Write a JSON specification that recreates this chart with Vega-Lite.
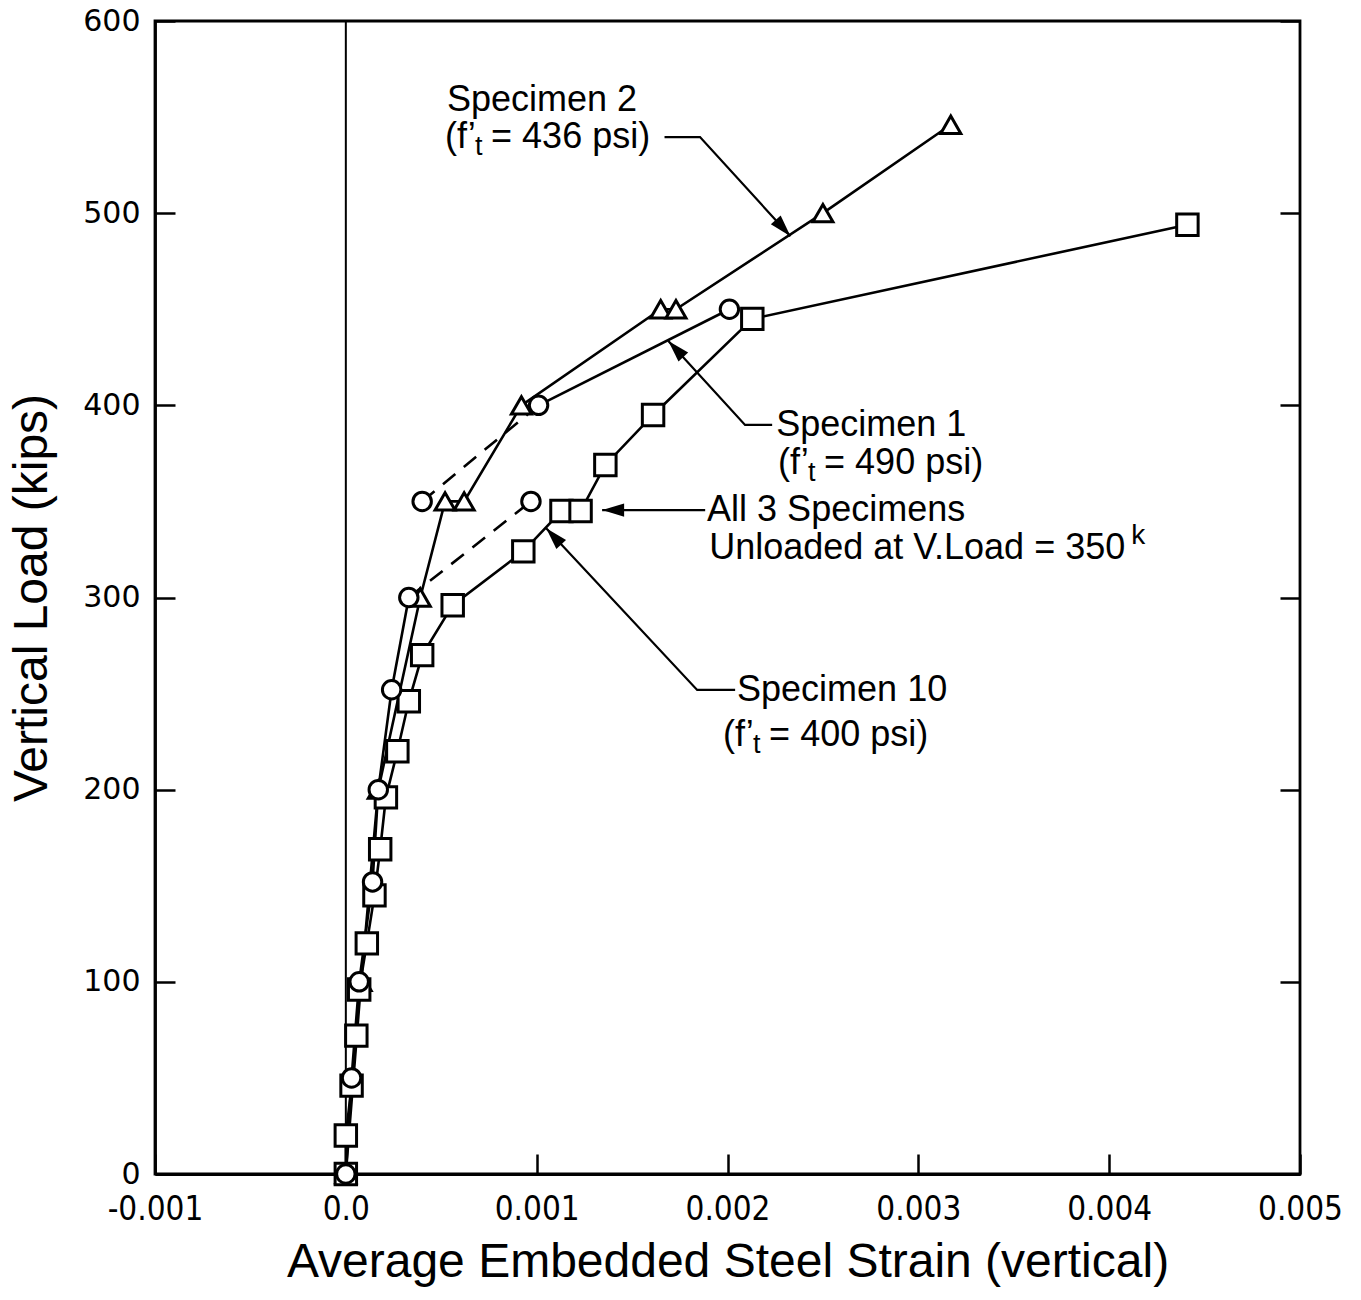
{
  "$schema": "https://vega.github.io/schema/vega-lite/v6.json",
  "width": 1145,
  "height": 1153,
  "autosize": {"type": "none"},
  "padding": {"left": 155, "top": 21, "right": 61, "bottom": 126},
  "background": "white",
  "config": {
    "view": {"stroke": "black", "strokeWidth": 2.8},
    "axis": {
      "grid": false,
      "domainColor": "black",
      "domainWidth": 2.8,
      "tickColor": "black",
      "tickWidth": 2.5,
      "tickSize": -20,
      "labelColor": "black",
      "titleColor": "black",
      "titleFont": "Liberation Sans",
      "titleFontSize": 48,
      "titleFontWeight": "normal"
    },
    "text": {"font": "Liberation Sans", "fontSize": 36, "color": "black"}
  },
  "datasets": {
    "zero": [{"strain": 0}],
    "tests": [
      {"specimen": "Specimen 2", "seq": 1, "strain": 0, "load": 0, "stage": "loading"},
      {"specimen": "Specimen 2", "seq": 2, "strain": 0.00008, "load": 100, "stage": "loading"},
      {"specimen": "Specimen 2", "seq": 3, "strain": 0.00017, "load": 200, "stage": "loading"},
      {"specimen": "Specimen 2", "seq": 4, "strain": 0.00039, "load": 300, "stage": "loading"},
      {"specimen": "Specimen 2", "seq": 5, "strain": 0.00052, "load": 350, "stage": "loading"},
      {"specimen": "Specimen 2", "seq": 6, "strain": 0.00062, "load": 350, "stage": "loading"},
      {"specimen": "Specimen 2", "seq": 7, "strain": 0.00092, "load": 400, "stage": "loading"},
      {"specimen": "Specimen 2", "seq": 8, "strain": 0.00165, "load": 450, "stage": "loading"},
      {"specimen": "Specimen 2", "seq": 9, "strain": 0.00173, "load": 450, "stage": "loading"},
      {"specimen": "Specimen 2", "seq": 10, "strain": 0.0025, "load": 500, "stage": "loading"},
      {"specimen": "Specimen 2", "seq": 11, "strain": 0.00317, "load": 546, "stage": "loading"},
      {"specimen": "Specimen 10", "seq": 1, "strain": 0, "load": 0, "stage": "loading"},
      {"specimen": "Specimen 10", "seq": 2, "strain": 0, "load": 20, "stage": "loading"},
      {"specimen": "Specimen 10", "seq": 3, "strain": 0.00003, "load": 46, "stage": "loading"},
      {"specimen": "Specimen 10", "seq": 4, "strain": 0.000055, "load": 72, "stage": "loading"},
      {"specimen": "Specimen 10", "seq": 5, "strain": 0.00007, "load": 96, "stage": "loading"},
      {"specimen": "Specimen 10", "seq": 6, "strain": 0.00011, "load": 120, "stage": "loading"},
      {"specimen": "Specimen 10", "seq": 7, "strain": 0.00015, "load": 145, "stage": "loading"},
      {"specimen": "Specimen 10", "seq": 8, "strain": 0.00018, "load": 169, "stage": "loading"},
      {"specimen": "Specimen 10", "seq": 9, "strain": 0.00021, "load": 196, "stage": "loading"},
      {"specimen": "Specimen 10", "seq": 10, "strain": 0.00027, "load": 220, "stage": "loading"},
      {"specimen": "Specimen 10", "seq": 11, "strain": 0.00033, "load": 246, "stage": "loading"},
      {"specimen": "Specimen 10", "seq": 12, "strain": 0.0004, "load": 270, "stage": "loading"},
      {"specimen": "Specimen 10", "seq": 13, "strain": 0.00056, "load": 296, "stage": "loading"},
      {"specimen": "Specimen 10", "seq": 14, "strain": 0.00093, "load": 324, "stage": "loading"},
      {"specimen": "Specimen 10", "seq": 15, "strain": 0.00113, "load": 345, "stage": "loading"},
      {"specimen": "Specimen 10", "seq": 16, "strain": 0.00123, "load": 345, "stage": "loading"},
      {"specimen": "Specimen 10", "seq": 17, "strain": 0.00136, "load": 369, "stage": "loading"},
      {"specimen": "Specimen 10", "seq": 18, "strain": 0.00161, "load": 395, "stage": "loading"},
      {"specimen": "Specimen 10", "seq": 19, "strain": 0.00213, "load": 445, "stage": "loading"},
      {"specimen": "Specimen 10", "seq": 20, "strain": 0.00441, "load": 494, "stage": "loading"},
      {"specimen": "Specimen 1", "seq": 1, "strain": 0, "load": 0, "stage": "loading"},
      {"specimen": "Specimen 1", "seq": 2, "strain": 0.00003, "load": 50, "stage": "loading"},
      {"specimen": "Specimen 1", "seq": 3, "strain": 0.00007, "load": 100, "stage": "loading"},
      {"specimen": "Specimen 1", "seq": 4, "strain": 0.00014, "load": 152, "stage": "loading"},
      {"specimen": "Specimen 1", "seq": 5, "strain": 0.00017, "load": 200, "stage": "loading"},
      {"specimen": "Specimen 1", "seq": 6, "strain": 0.00024, "load": 252, "stage": "loading"},
      {"specimen": "Specimen 1", "seq": 7, "strain": 0.00033, "load": 300, "stage": "loading", "link": "A"},
      {"specimen": "Specimen 1", "seq": 8, "strain": 0.00097, "load": 350, "stage": "unloaded", "link": "A"},
      {"specimen": "Specimen 1", "seq": 9, "strain": 0.0004, "load": 350, "stage": "unloaded", "link": "B"},
      {"specimen": "Specimen 1", "seq": 10, "strain": 0.00101, "load": 400, "stage": "reloading", "link": "B"},
      {"specimen": "Specimen 1", "seq": 11, "strain": 0.00201, "load": 450, "stage": "reloading"}
    ],
    "leaders": [
      {"leader": "Specimen 2", "seq": 1, "strain": 0.00233, "load": 488},
      {"leader": "Specimen 2", "seq": 2, "strain": 0.001856, "load": 539.6},
      {"leader": "Specimen 2", "seq": 3, "strain": 0.00167, "load": 539.6},
      {"leader": "Specimen 1", "seq": 1, "strain": 0.00169, "load": 433.5},
      {"leader": "Specimen 1", "seq": 2, "strain": 0.002092, "load": 389.8},
      {"leader": "Specimen 1", "seq": 3, "strain": 0.002234, "load": 389.8},
      {"leader": "All 3", "seq": 1, "strain": 0.001343, "load": 345.5},
      {"leader": "All 3", "seq": 2, "strain": 0.001883, "load": 345.5},
      {"leader": "Specimen 10", "seq": 1, "strain": 0.00105, "load": 336},
      {"leader": "Specimen 10", "seq": 2, "strain": 0.001841, "load": 251.9},
      {"leader": "Specimen 10", "seq": 3, "strain": 0.00204, "load": 251.9}
    ],
    "labels": [
      {"label": "Specimen 2", "strain": 0.00053, "load": 558.9},
      {"label": "Specimen 1", "strain": 0.002255, "load": 389.8},
      {"label": "All 3 Specimens", "strain": 0.001893, "load": 345.5},
      {"label": "Specimen 10", "strain": 0.00205, "load": 251.9}
    ],
    "formulas": [
      {"pre": "(f’", "sub": "t", "post": "= 436 psi)", "strain": 0.00052, "load": 539.6},
      {"pre": "(f’", "sub": "t", "post": "= 490 psi)", "strain": 0.002265, "load": 370},
      {"pre": "(f’", "sub": "t", "post": "= 400 psi)", "strain": 0.001977, "load": 228.5}
    ],
    "unload": [
      {"main": "Unloaded at V.Load = 350", "sup": "k", "strain": 0.001904, "load": 325.8}
    ]
  },
  "encoding": {
    "x": {
      "field": "strain", "type": "quantitative",
      "scale": {"domain": [-0.001, 0.005], "nice": false, "zero": false},
      "axis": {
        "values": [-0.001, 0, 0.001, 0.002, 0.003, 0.004, 0.005],
        "labelExpr": "datum.value === 0 ? '0.0' : (datum.value < 0 ? '-' : '') + format(abs(datum.value), '.3f')",
        "labelFont": "'Liberation Sans Narrow', 'DejaVu Sans Condensed', 'Liberation Sans', sans-serif",
        "labelFontSize": 33,
        "labelPadding": 39,
        "labelFlush": false,
        "labelOverlap": false,
        "title": "Average Embedded Steel Strain (vertical)",
        "titlePadding": 12
      }
    }
  },
  "resolve": {"axis": {"y": "independent"}},
  "layer": [
    {
      "data": {"name": "zero"},
      "mark": {"type": "rule", "color": "black", "strokeWidth": 2}
    },
    {
      "data": {"name": "tests"},
      "transform": [{"filter": "datum.stage !== 'unloaded'"}],
      "mark": {"type": "line", "color": "black", "strokeWidth": 2.6},
      "encoding": {
        "y": {
          "field": "load", "type": "quantitative",
          "scale": {"domain": [0, 600], "nice": false},
          "axis": {
            "orient": "left",
            "values": [0, 100, 200, 300, 400, 500, 600],
            "labelFont": "DejaVu Sans",
            "labelFontSize": 30,
            "labelPadding": 35,
            "title": "Vertical Load (kips)",
            "titlePadding": 26
          }
        },
        "detail": [{"field": "specimen"}, {"field": "stage"}],
        "order": {"field": "seq", "type": "quantitative"}
      }
    },
    {
      "data": {"name": "tests"},
      "transform": [{"filter": "isValid(datum.link)"}],
      "mark": {"type": "line", "color": "black", "strokeWidth": 2.6, "strokeDash": [16, 11]},
      "encoding": {
        "y": {"field": "load", "type": "quantitative", "scale": {"domain": [0, 600], "nice": false}, "axis": null},
        "detail": {"field": "link"},
        "order": {"field": "seq", "type": "quantitative"}
      }
    },
    {
      "data": {"name": "leaders"},
      "mark": {"type": "line", "color": "black", "strokeWidth": 2.2},
      "encoding": {
        "y": {"field": "load", "type": "quantitative", "scale": {"domain": [0, 600], "nice": false}, "axis": null},
        "detail": {"field": "leader"},
        "order": {"field": "seq", "type": "quantitative"}
      }
    },
    {
      "data": {"name": "leaders"},
      "transform": [{"filter": "datum.seq === 1 && datum.leader === 'Specimen 2'"}],
      "mark": {"type": "point", "shape": "M0,0L-2,-0.6L-2,0.6Z", "filled": true, "color": "black", "opacity": 1, "size": 484, "angle": 48},
      "encoding": {
        "y": {"field": "load", "type": "quantitative", "scale": {"domain": [0, 600], "nice": false}, "axis": null}
      }
    },
    {
      "data": {"name": "leaders"},
      "transform": [{"filter": "datum.seq === 1 && (datum.leader === 'Specimen 1' || datum.leader === 'Specimen 10')"}],
      "mark": {"type": "point", "shape": "M0,0L-2,-0.6L-2,0.6Z", "filled": true, "color": "black", "opacity": 1, "size": 484, "angle": 227},
      "encoding": {
        "y": {"field": "load", "type": "quantitative", "scale": {"domain": [0, 600], "nice": false}, "axis": null}
      }
    },
    {
      "data": {"name": "leaders"},
      "transform": [{"filter": "datum.seq === 1 && datum.leader === 'All 3'"}],
      "mark": {"type": "point", "shape": "M0,0L-2,-0.6L-2,0.6Z", "filled": true, "color": "black", "opacity": 1, "size": 484, "angle": 180},
      "encoding": {
        "y": {"field": "load", "type": "quantitative", "scale": {"domain": [0, 600], "nice": false}, "axis": null}
      }
    },
    {
      "data": {"name": "tests"},
      "mark": {"type": "point", "filled": true, "fill": "white", "stroke": "black", "strokeWidth": 3, "opacity": 1},
      "encoding": {
        "y": {
          "field": "load", "type": "quantitative",
          "scale": {"domain": [0, 600], "nice": false},
          "axis": {"orient": "right", "values": [0, 100, 200, 300, 400, 500, 600], "labels": false, "title": null, "domain": false}
        },
        "shape": {"field": "specimen", "type": "nominal", "scale": {"domain": ["Specimen 1", "Specimen 2", "Specimen 10"], "range": ["circle", "triangle-up", "square"]}, "legend": null},
        "size": {"field": "specimen", "type": "ordinal", "scale": {"domain": ["Specimen 1", "Specimen 2", "Specimen 10"], "range": [340, 460, 400]}, "legend": null}
      }
    },
    {
      "data": {"name": "labels"},
      "mark": {"type": "text", "align": "left", "baseline": "middle"},
      "encoding": {
        "y": {"field": "load", "type": "quantitative", "scale": {"domain": [0, 600], "nice": false}, "axis": null},
        "text": {"field": "label"}
      }
    },
    {
      "data": {"name": "formulas"},
      "mark": {"type": "text", "align": "left", "baseline": "middle"},
      "encoding": {
        "y": {"field": "load", "type": "quantitative", "scale": {"domain": [0, 600], "nice": false}, "axis": null},
        "text": {"field": "pre"}
      }
    },
    {
      "data": {"name": "formulas"},
      "mark": {"type": "text", "align": "left", "baseline": "middle", "fontSize": 27, "dx": 30, "dy": 10},
      "encoding": {
        "y": {"field": "load", "type": "quantitative", "scale": {"domain": [0, 600], "nice": false}, "axis": null},
        "text": {"field": "sub"}
      }
    },
    {
      "data": {"name": "formulas"},
      "mark": {"type": "text", "align": "left", "baseline": "middle", "dx": 46},
      "encoding": {
        "y": {"field": "load", "type": "quantitative", "scale": {"domain": [0, 600], "nice": false}, "axis": null},
        "text": {"field": "post"}
      }
    },
    {
      "data": {"name": "unload"},
      "mark": {"type": "text", "align": "left", "baseline": "middle"},
      "encoding": {
        "y": {"field": "load", "type": "quantitative", "scale": {"domain": [0, 600], "nice": false}, "axis": null},
        "text": {"field": "main"}
      }
    },
    {
      "data": {"name": "unload"},
      "mark": {"type": "text", "align": "left", "baseline": "middle", "fontSize": 28, "dx": 422, "dy": -12},
      "encoding": {
        "y": {"field": "load", "type": "quantitative", "scale": {"domain": [0, 600], "nice": false}, "axis": null},
        "text": {"field": "sup"}
      }
    }
  ]
}
